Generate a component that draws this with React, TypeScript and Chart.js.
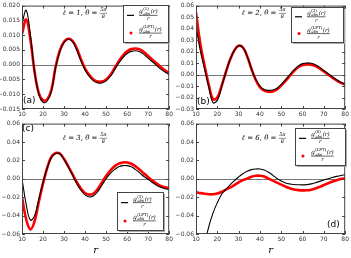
import React, { useEffect, useRef } from "react";
import { Chart, registerables } from "chart.js";
Chart.register(...registerables);

// r grid shared by all panels
const R_VALUES = [10, 12, 14, 16, 18, 20, 22, 24, 26, 28, 30, 32, 34, 36, 38, 40, 42, 44, 46, 48, 50, 52, 54, 56, 58, 60, 62, 64, 66, 68, 70, 72, 74, 76, 78, 80];
const X_TICKS = [10, 20, 30, 40, 50, 60, 70, 80];

// (a) l = 1
const A_BLACK = [0.0140, 0.0184, 0.0100, -0.0025, -0.0100, -0.0127, -0.0123, -0.0090, -0.0010, 0.0045, 0.0075, 0.0086, 0.0078, 0.0050, 0.0013, -0.0018, -0.0040, -0.0055, -0.0062, -0.0062, -0.0055, -0.0040, -0.0018, 0.0005, 0.0024, 0.0038, 0.0045, 0.0047, 0.0044, 0.0035, 0.0022, 0.0010, -0.0003, -0.0015, -0.0025, -0.0033];
const A_RED = [0.0104, 0.0153, 0.0085, -0.0025, -0.0096, -0.0120, -0.0117, -0.0085, -0.0006, 0.0048, 0.0078, 0.0088, 0.0081, 0.0056, 0.0019, -0.0013, -0.0035, -0.0050, -0.0057, -0.0057, -0.0050, -0.0035, -0.0012, 0.0012, 0.0031, 0.0045, 0.0053, 0.0055, 0.0052, 0.0043, 0.0030, 0.0017, 0.0005, -0.0008, -0.0019, -0.0028];
const A_Y_TICKS = [-0.015, -0.010, -0.005, 0, 0.005, 0.010, 0.015, 0.020];

// (b) l = 2
const B_BLACK = [0.042, 0.021, 0.005, -0.011, -0.0245, -0.0225, -0.011, 0.002, 0.013, 0.021, 0.025, 0.0235, 0.016, 0.005, -0.004, -0.010, -0.013, -0.0138, -0.0135, -0.012, -0.0085, -0.0045, 0.000, 0.004, 0.0075, 0.0095, 0.0101, 0.0098, 0.0085, 0.0062, 0.0035, 0.0008, -0.0020, -0.0045, -0.0068, -0.0084];
const B_RED = [0.054, 0.027, 0.008, -0.009, -0.0215, -0.020, -0.010, 0.002, 0.013, 0.021, 0.025, 0.0235, 0.016, 0.005, -0.0045, -0.011, -0.014, -0.015, -0.0148, -0.013, -0.0095, -0.0055, -0.0012, 0.003, 0.0063, 0.0082, 0.0088, 0.0086, 0.0074, 0.0053, 0.0027, 0.0000, -0.0027, -0.0052, -0.0073, -0.0088];
const B_Y_TICKS = [-0.03, -0.02, -0.01, 0, 0.01, 0.02, 0.03, 0.04, 0.05, 0.06];

// (c) l = 3
const C_BLACK = [0.000, -0.028, -0.045, -0.040, -0.022, -0.004, 0.012, 0.023, 0.0275, 0.027, 0.021, 0.013, 0.004, -0.005, -0.0125, -0.0175, -0.0197, -0.0185, -0.014, -0.007, 0.000, 0.006, 0.010, 0.013, 0.0143, 0.0143, 0.013, 0.010, 0.0065, 0.0025, -0.0005, -0.0040, -0.0070, -0.0093, -0.0108, -0.0115];
const C_RED = [-0.020, -0.044, -0.055, -0.046, -0.025, -0.005, 0.012, 0.024, 0.028, 0.0275, 0.0215, 0.0135, 0.0050, -0.0035, -0.0105, -0.0155, -0.0172, -0.016, -0.011, -0.004, 0.003, 0.009, 0.0135, 0.0165, 0.0178, 0.0177, 0.0163, 0.0135, 0.0098, 0.0058, 0.0018, -0.0020, -0.0052, -0.0078, -0.0093, -0.0100];
const C_Y_TICKS = [-0.06, -0.04, -0.02, 0, 0.02, 0.04, 0.06];

// (d) l = 6
const D_BLACK = [-0.16, -0.105, -0.072, -0.052, -0.037, -0.026, -0.017, -0.0115, -0.0065, -0.002, 0.002, 0.0055, 0.0082, 0.0100, 0.0107, 0.0106, 0.0095, 0.0072, 0.0040, 0.0003, -0.0025, -0.0045, -0.0056, -0.0062, -0.0065, -0.0066, -0.0063, -0.0055, -0.0043, -0.0028, -0.0013, 0.0000, 0.0014, 0.0026, 0.0036, 0.0043];
const D_RED = [-0.0143, -0.0155, -0.0163, -0.0168, -0.0168, -0.0160, -0.0143, -0.0118, -0.0095, -0.0068, -0.0040, -0.0015, 0.0002, 0.0022, 0.0033, 0.0034, 0.0025, 0.0002, -0.0020, -0.0042, -0.0064, -0.0085, -0.0103, -0.0116, -0.0123, -0.0126, -0.0125, -0.0118, -0.0105, -0.0088, -0.0068, -0.0048, -0.0030, -0.0015, -0.0003, 0.0007];
const D_Y_TICKS = [-0.06, -0.04, -0.02, 0, 0.02, 0.04, 0.06];

type Panel = {
  black: number[];
  red: number[];
  yTicks: number[];
  decimals: number;
  ell: string;
  label: string;
  sup: string;
  left: number;
  top: number;
  w: number;
  h: number;
  padTop: number;
  padRight: number;
  yWidth: number;
  xHeight: number;
  xTitle: boolean;
  titlePos: [number, number];
  labelPos: [number, number];
  legend: [number, number, number, number];
};

const PANELS: Panel[] = [
  { black: A_BLACK, red: A_RED, yTicks: A_Y_TICKS, decimals: 3, ell: "1", label: "(a)", sup: "(1)",
    left: 0, top: 0, w: 175, h: 120, padTop: 4, padRight: 4, yWidth: 22, xHeight: 11, xTitle: false,
    titlePos: [63, 13], labelPos: [23, 101], legend: [123, 5, 45, 37] },
  { black: B_BLACK, red: B_RED, yTicks: B_Y_TICKS, decimals: 2, ell: "2", label: "(b)", sup: "(2)",
    left: 175, top: 0, w: 176, h: 120, padTop: 4, padRight: 5, yWidth: 21, xHeight: 11, xTitle: false,
    titlePos: [67, 13], labelPos: [22, 102], legend: [116, 7, 52, 35] },
  { black: C_BLACK, red: C_RED, yTicks: C_Y_TICKS, decimals: 2, ell: "3", label: "(c)", sup: "(3)",
    left: 0, top: 118, w: 175, h: 140, padTop: 4, padRight: 4, yWidth: 22, xHeight: 24, xTitle: true,
    titlePos: [63, 20], labelPos: [22, 11], legend: [117, 74, 46, 38] },
  { black: D_BLACK, red: D_RED, yTicks: D_Y_TICKS, decimals: 2, ell: "6", label: "(d)", sup: "(6)",
    left: 175, top: 118, w: 176, h: 140, padTop: 4, padRight: 5, yWidth: 21, xHeight: 24, xTitle: true,
    titlePos: [67, 20], labelPos: [152, 107], legend: [120, 10, 50, 37] },
];

function fmt(v: number, d: number) {
  const s = Math.abs(v) < 1e-12 ? (0).toFixed(d) : v.toFixed(d);
  return s.replace("-", "\u2212");
}

function drawFracLabel(ctx: CanvasRenderingContext2D, x: number, y: number, sup: string) {
  ctx.fillStyle = "#000";
  ctx.textAlign = "left";
  ctx.textBaseline = "alphabetic";
  let cx = x;
  const base = y - 2;
  ctx.font = 'italic 6px "DejaVu Serif"';
  ctx.fillText("g", cx, base);
  cx += ctx.measureText("g").width + 0.3;
  ctx.font = '4px "DejaVu Serif"';
  ctx.fillText(sup, cx, base - 3);
  const supW = ctx.measureText(sup).width;
  ctx.font = 'italic 4px "DejaVu Serif"';
  ctx.fillText("abs", cx, base + 1.5);
  const subW = ctx.measureText("abs").width;
  cx += Math.max(supW, subW) + 0.5;
  ctx.font = 'italic 5.5px "DejaVu Serif"';
  ctx.fillText("(r)", cx, base);
  cx += ctx.measureText("(r)").width;
  ctx.strokeStyle = "#000";
  ctx.lineWidth = 0.6;
  ctx.beginPath();
  ctx.moveTo(x, y);
  ctx.lineTo(cx, y);
  ctx.stroke();
  ctx.font = 'italic 5px "DejaVu Serif"';
  ctx.textAlign = "center";
  ctx.fillText("r", (x + cx) / 2, y + 5);
}

function makeDeco(p: Panel) {
  return {
    id: "deco",
    beforeDatasetsDraw(chart: any) {
      const { ctx, chartArea: a, scales } = chart;
      const y0 = Math.round(scales.y.getPixelForValue(0)) + 0.5;
      ctx.save();
      ctx.strokeStyle = "#777";
      ctx.lineWidth = 1;
      ctx.beginPath();
      ctx.moveTo(a.left, y0);
      ctx.lineTo(a.right, y0);
      ctx.stroke();
      ctx.restore();
    },
    afterDatasetsDraw(chart: any) {
      const { ctx, chartArea: a, scales } = chart;
      ctx.save();
      // frame
      ctx.strokeStyle = "#444";
      ctx.lineWidth = 1;
      ctx.strokeRect(a.left + 0.5, a.top + 0.5, a.right - a.left - 1, a.bottom - a.top - 1);
      // inward ticks
      ctx.beginPath();
      for (const v of X_TICKS) {
        const px = Math.round(scales.x.getPixelForValue(v)) + 0.5;
        ctx.moveTo(px, a.bottom);
        ctx.lineTo(px, a.bottom - 3);
        ctx.moveTo(px, a.top);
        ctx.lineTo(px, a.top + 3);
      }
      for (const v of p.yTicks) {
        const py = Math.round(scales.y.getPixelForValue(v)) + 0.5;
        ctx.moveTo(a.left, py);
        ctx.lineTo(a.left + 3, py);
        ctx.moveTo(a.right, py);
        ctx.lineTo(a.right - 3, py);
      }
      ctx.stroke();

      // title
      const [tx, ty] = p.titlePos;
      ctx.fillStyle = "#000";
      ctx.textBaseline = "middle";
      ctx.textAlign = "left";
      ctx.font = 'italic 7px "DejaVu Serif"';
      const s = "\u2113 = " + p.ell + ", \u03b8 = ";
      ctx.fillText(s, tx, ty);
      const tw = ctx.measureText(s).width;
      ctx.font = 'italic 5px "DejaVu Serif"';
      const nw = ctx.measureText("5\u03c0").width;
      ctx.textAlign = "center";
      ctx.fillText("5\u03c0", tx + tw + nw / 2 + 0.5, ty - 3);
      ctx.fillText("8", tx + tw + nw / 2 + 0.5, ty + 3.5);
      ctx.lineWidth = 0.6;
      ctx.beginPath();
      ctx.moveTo(tx + tw, ty + 0.3);
      ctx.lineTo(tx + tw + nw + 1, ty + 0.3);
      ctx.stroke();

      // panel label
      ctx.textAlign = "left";
      ctx.textBaseline = "middle";
      ctx.font = '9px "DejaVu Sans"';
      ctx.fillText(p.label, p.labelPos[0], p.labelPos[1]);

      // legend
      const [lx, ly, lw, lh] = p.legend;
      ctx.fillStyle = "#aaa";
      ctx.fillRect(lx + 2, ly + 2, lw, lh);
      ctx.fillStyle = "#fff";
      ctx.fillRect(lx, ly, lw, lh);
      ctx.strokeStyle = "#444";
      ctx.lineWidth = 1;
      ctx.strokeRect(lx + 0.5, ly + 0.5, lw, lh);
      const r1 = ly + lh * 0.28;
      const r2 = ly + lh * 0.76;
      ctx.strokeStyle = "#000";
      ctx.lineWidth = 1.2;
      ctx.beginPath();
      ctx.moveTo(lx + 4, r1);
      ctx.lineTo(lx + 11, r1);
      ctx.stroke();
      ctx.fillStyle = "#ff0000";
      ctx.beginPath();
      ctx.arc(lx + 8, r2, 1.5, 0, Math.PI * 2);
      ctx.fill();
      drawFracLabel(ctx, lx + 16, r1, p.sup);
      drawFracLabel(ctx, lx + 16, r2, "(LPT)");
      ctx.restore();
    },
  };
}

function PanelChart({ p }: { p: Panel }) {
  const ref = useRef<HTMLCanvasElement>(null);
  useEffect(() => {
    const tickFont = { family: '"DejaVu Sans"', size: 6 };
    const chart = new Chart(ref.current as HTMLCanvasElement, {
      type: "line",
      data: {
        datasets: [
          {
            label: "black",
            data: R_VALUES.map((r, i) => ({ x: r, y: p.black[i] })),
            borderColor: "#000",
            borderWidth: 1.1,
            pointRadius: 0,
            tension: 0.4,
            order: 1,
          },
          {
            label: "red",
            data: R_VALUES.map((r, i) => ({ x: r, y: p.red[i] })),
            borderColor: "#ff0000",
            borderWidth: 2.6,
            pointRadius: 0,
            tension: 0.4,
            order: 2,
          },
        ],
      },
      options: {
        animation: false,
        responsive: false,
        devicePixelRatio: 1,
        layout: { padding: { top: p.padTop, right: p.padRight, left: 0, bottom: 0 } },
        plugins: { legend: { display: false }, tooltip: { enabled: false } },
        scales: {
          x: {
            type: "linear",
            min: 10,
            max: 80,
            grid: { display: false, drawTicks: false },
            border: { display: false },
            afterBuildTicks: (s: any) => {
              s.ticks = X_TICKS.map((v) => ({ value: v }));
            },
            afterFit: (s: any) => {
              s.height = p.xHeight;
            },
            ticks: {
              autoSkip: false,
              maxRotation: 0,
              padding: 2,
              color: "#333",
              font: tickFont,
              callback: (v: any) => String(v),
            },
            title: {
              display: p.xTitle,
              text: "r",
              color: "#000",
              padding: { top: 0, bottom: 2 },
              font: { family: '"DejaVu Serif"', size: 10, style: "italic" },
            },
          },
          y: {
            type: "linear",
            min: p.yTicks[0],
            max: p.yTicks[p.yTicks.length - 1],
            grid: { display: false, drawTicks: false },
            border: { display: false },
            afterBuildTicks: (s: any) => {
              s.ticks = p.yTicks.map((v) => ({ value: v }));
            },
            afterFit: (s: any) => {
              s.width = p.yWidth;
            },
            ticks: {
              autoSkip: false,
              padding: 2,
              color: "#333",
              font: tickFont,
              callback: (v: any) => fmt(Number(v), p.decimals),
            },
          },
        },
      } as any,
      plugins: [makeDeco(p) as any],
    });
    return () => chart.destroy();
  }, []);
  return (
    <canvas
      ref={ref}
      width={p.w}
      height={p.h}
      style={{ position: "absolute", left: p.left, top: p.top, width: p.w, height: p.h }}
    />
  );
}

export default function App() {
  return (
    <div style={{ position: "fixed", left: 0, top: 0, width: 351, height: 258, background: "#fff", overflow: "hidden" }}>
      {PANELS.map((p, i) => (
        <PanelChart key={i} p={p} />
      ))}
    </div>
  );
}
